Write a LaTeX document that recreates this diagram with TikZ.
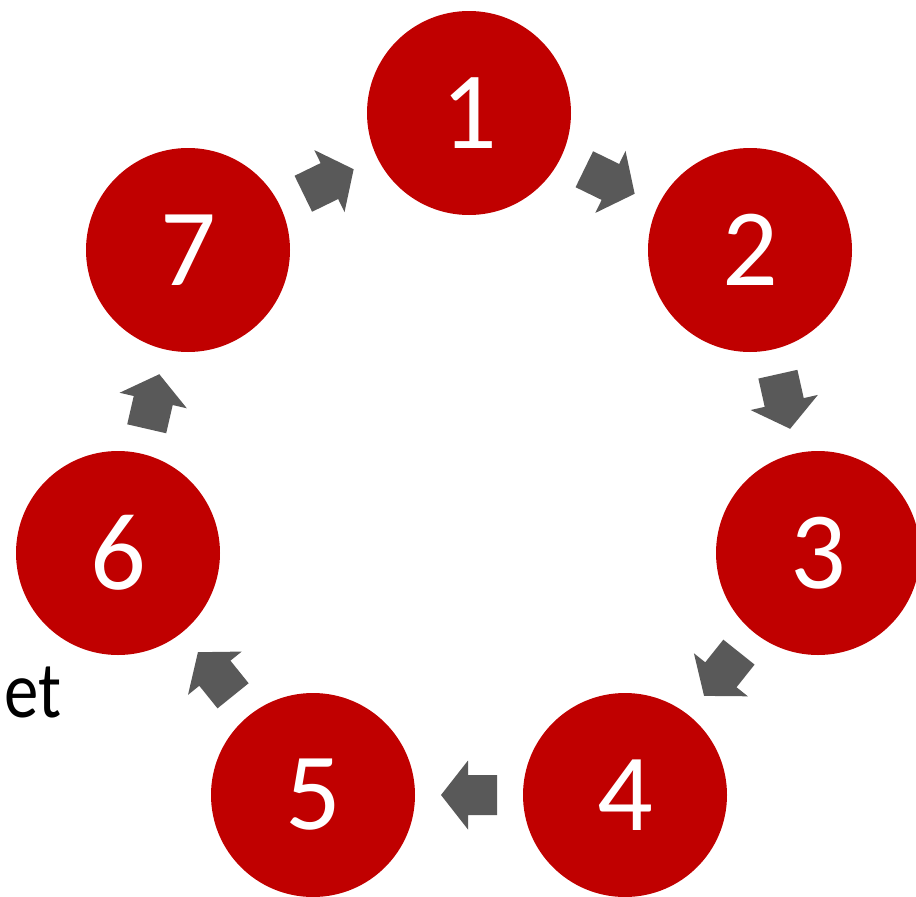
\documentclass[tikz,border=0pt]{standalone}
\usepackage{fontspec}
\setmainfont{Carlito}
\newfontfamily\sidefont[FakeStretch=0.86]{Carlito}
\definecolor{stagered}{HTML}{C00000}
\definecolor{arrowgrey}{HTML}{595959}
\tikzset{
    stage/.style = {circle, fill=stagered, minimum size=204pt, inner sep=0pt, text=white, font=\fontsize{110}{110}\selectfont},
    flowarrow/.pic = {
        \fill[arrowgrey] (-28,-20) -- (1,-20) -- (1,-34.5) -- (28,0) -- (1,34.5) -- (1,20) -- (-28,20) -- cycle;
    }
}
\begin{document}
\begin{tikzpicture}[x=1pt, y=-1pt]
    \useasboundingbox (0,0) rectangle (916,897);

    \node[stage] (n1) at (469,113) {1};
    \node[stage] (n2) at (750,250) {2};
    \node[stage] (n3) at (818,553) {3};
    \node[stage] (n4) at (625,795) {4};
    \node[stage] (n5) at (313,795) {5};
    \node[stage] (n6) at (118,553) {6};
    \node[stage] (n7) at (188,250) {7};

    \node[font=\sidefont\fontsize{80}{80}\selectfont, inner sep=0pt, anchor=base west] (et) at (4,717) {et};

    \foreach \a/\b in {1/2, 2/3, 3/4, 4/5, 5/6, 6/7, 7/1}
        \path (n\a.center) -- pic[pos=0.5, sloped, allow upside down]{flowarrow} (n\b.center);
\end{tikzpicture}
\end{document}
